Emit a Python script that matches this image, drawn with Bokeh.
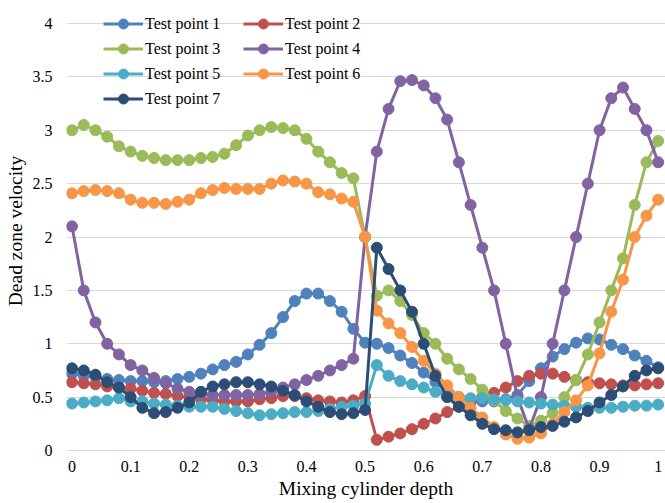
from bokeh.plotting import figure
from bokeh.models import (Range1d, FixedTicker, CustomJSTickFormatter,
                          Legend, LegendItem)
from bokeh.embed import file_html
from bokeh.resources import INLINE

# Mixing cylinder depth, sampled every 0.02
depth = [round(i * 0.02, 2) for i in range(51)]

tp1 = [0.72, 0.70, 0.69, 0.67, 0.66, 0.65, 0.65, 0.64, 0.65, 0.67,
       0.69, 0.72, 0.76, 0.80, 0.83, 0.90, 0.99, 1.10, 1.25, 1.40,
       1.47, 1.47, 1.40, 1.30, 1.14, 1.01, 1.00, 0.96, 0.89, 0.82,
       0.73, 0.64, 0.55, 0.50, 0.47, 0.46, 0.46, 0.48, 0.52, 0.65,
       0.77, 0.88, 0.95, 1.01, 1.05, 1.04, 0.99, 0.95, 0.89, 0.84,
       0.78]
tp2 = [0.64, 0.63, 0.62, 0.60, 0.59, 0.58, 0.56, 0.54, 0.53, 0.51,
       0.50, 0.48, 0.47, 0.46, 0.46, 0.46, 0.48, 0.49, 0.51, 0.51,
       0.49, 0.47, 0.46, 0.45, 0.47, 0.51, 0.10, 0.13, 0.16, 0.20,
       0.25, 0.30, 0.36, 0.41, 0.45, 0.50, 0.54, 0.59, 0.65, 0.70,
       0.72, 0.72, 0.69, 0.66, 0.64, 0.63, 0.62, 0.61, 0.61, 0.62,
       0.63]
tp3 = [3.00, 3.05, 3.00, 2.94, 2.85, 2.80, 2.76, 2.74, 2.72, 2.72,
       2.72, 2.74, 2.75, 2.78, 2.86, 2.95, 3.00, 3.03, 3.02, 3.00,
       2.92, 2.80, 2.70, 2.60, 2.55, 2.00, 1.45, 1.50, 1.40, 1.27,
       1.10, 1.00, 0.86, 0.76, 0.67, 0.57, 0.47, 0.37, 0.30, 0.23,
       0.28, 0.35, 0.50, 0.66, 0.90, 1.20, 1.50, 1.80, 2.30, 2.70,
       2.90]
tp4 = [2.10, 1.50, 1.20, 1.00, 0.90, 0.80, 0.75, 0.68, 0.63, 0.58,
       0.55, 0.53, 0.52, 0.52, 0.52, 0.52, 0.53, 0.55, 0.59, 0.62,
       0.66, 0.70, 0.75, 0.80, 0.86, 2.00, 2.80, 3.20, 3.46, 3.47,
       3.42, 3.30, 3.10, 2.70, 2.30, 1.90, 1.50, 1.00, 0.50, 0.20,
       0.50, 1.00, 1.50, 2.00, 2.50, 3.00, 3.30, 3.40, 3.20, 3.00,
       2.70]
tp5 = [0.44, 0.45, 0.46, 0.47, 0.49, 0.46, 0.46, 0.44, 0.43, 0.42,
       0.41, 0.41, 0.41, 0.39, 0.37, 0.35, 0.33, 0.34, 0.35, 0.36,
       0.36, 0.37, 0.39, 0.41, 0.42, 0.44, 0.80, 0.70, 0.65, 0.62,
       0.59, 0.55, 0.51, 0.50, 0.49, 0.49, 0.48, 0.47, 0.46, 0.45,
       0.44, 0.43, 0.42, 0.41, 0.40, 0.40, 0.40, 0.41, 0.42, 0.42,
       0.43]
tp6 = [2.41, 2.43, 2.44, 2.43, 2.41, 2.35, 2.32, 2.32, 2.31, 2.33,
       2.35, 2.41, 2.44, 2.46, 2.45, 2.45, 2.45, 2.50, 2.53, 2.52,
       2.50, 2.42, 2.40, 2.36, 2.33, 2.00, 1.31, 1.19, 1.10, 0.97,
       0.84, 0.72, 0.61, 0.50, 0.40, 0.31, 0.22, 0.15, 0.11, 0.12,
       0.16, 0.25, 0.36, 0.47, 0.61, 0.91, 1.30, 1.60, 2.00, 2.20,
       2.35]
tp7 = [0.77, 0.75, 0.71, 0.64, 0.59, 0.50, 0.40, 0.35, 0.36, 0.40,
       0.45, 0.55, 0.60, 0.62, 0.64, 0.64, 0.62, 0.60, 0.56, 0.52,
       0.46, 0.41, 0.36, 0.34, 0.35, 0.38, 1.90, 1.70, 1.50, 1.30,
       1.00, 0.70, 0.50, 0.41, 0.33, 0.25, 0.20, 0.19, 0.17, 0.19,
       0.22, 0.23, 0.27, 0.31, 0.37, 0.45, 0.52, 0.60, 0.70, 0.75,
       0.77]

names = ["Test point 1", "Test point 2", "Test point 3", "Test point 4",
         "Test point 5", "Test point 6", "Test point 7"]
series = [tp1, tp2, tp3, tp4, tp5, tp6, tp7]
colors = ["#4F81BD", "#C0504D", "#9BBB59", "#8064A2",
          "#4BACC6", "#F79646", "#2C4D75"]

x_ticks = [0, 0.1, 0.2, 0.3, 0.4, 0.5, 0.6, 0.7, 0.8, 0.9, 1]
y_ticks = [0, 0.5, 1, 1.5, 2, 2.5, 3, 3.5, 4]

FONT = "Liberation Serif"

p = figure(width=665, height=503, output_backend="svg", toolbar_location=None,
           x_range=Range1d(-0.0094, 1.0125), y_range=Range1d(-0.028, 4.1405),
           min_border_left=66, min_border_right=0,
           min_border_top=8, min_border_bottom=50)
p.outline_line_color = None
p.background_fill_color = "white"
p.border_fill_color = "white"

fmt = CustomJSTickFormatter(code="return String(Math.round(tick * 100) / 100);")

for ax, ticks in ((p.xaxis[0], x_ticks), (p.yaxis[0], y_ticks)):
    ax.ticker = FixedTicker(ticks=ticks)
    ax.formatter = fmt
    ax.axis_line_color = None
    ax.major_tick_line_color = None
    ax.minor_tick_line_color = None
    ax.major_tick_out = 0
    ax.major_tick_in = 0
    ax.minor_tick_out = 0
    ax.minor_tick_in = 0
    ax.major_label_text_font = FONT
    ax.major_label_text_font_size = "16px"
    ax.major_label_text_color = "black"
    ax.axis_label_text_font = FONT
    ax.axis_label_text_font_size = "19.5px"
    ax.axis_label_text_font_style = "normal"
    ax.axis_label_text_color = "black"

p.xaxis.axis_label = "Mixing cylinder depth"
p.xaxis.major_label_standoff = 7
p.xaxis.axis_label_standoff = 3
p.yaxis.axis_label = "Dead zone velocity"
p.yaxis.major_label_standoff = 14
p.yaxis.axis_label_standoff = 4

p.xgrid.grid_line_color = None
p.ygrid.ticker = FixedTicker(ticks=y_ticks)
p.ygrid.grid_line_color = "#D9D9D9"
p.ygrid.grid_line_width = 1

items = []
for name, ys, c in zip(names, series, colors):
    ln = p.line(depth, ys, line_color=c, line_width=3)
    sc = p.scatter(depth, ys, size=11, fill_color=c, line_color=c)
    items.append(LegendItem(label=name, renderers=[ln, sc]))

def make_legend(its, loc):
    lg = Legend(items=its, location=loc)
    lg.glyph_width = 40
    lg.glyph_height = 25
    lg.label_height = 25
    lg.spacing = 0
    lg.padding = 0
    lg.margin = 0
    lg.label_standoff = 2
    lg.label_text_font = FONT
    lg.label_text_font_size = "16px"
    lg.label_text_color = "black"
    lg.border_line_color = None
    lg.background_fill_alpha = 0
    return lg

# two legend columns: odd test points on the left, even on the right
p.add_layout(make_legend([items[0], items[2], items[4], items[6]], (37, 342)))
p.add_layout(make_legend([items[1], items[3], items[5]], (177, 367)))

open("out.html", "w").write(file_html(p, INLINE))
